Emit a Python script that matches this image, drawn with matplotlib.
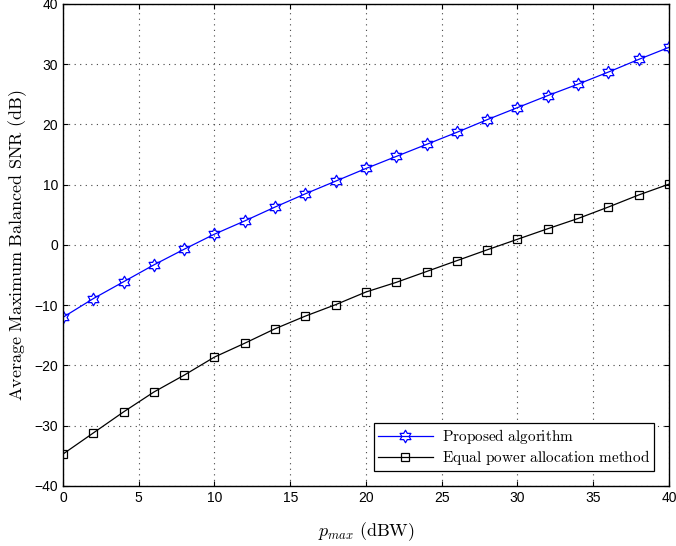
import matplotlib.pyplot as plt
import numpy as np
from matplotlib.path import Path

plt.rcParams['mathtext.fontset'] = 'cm'
plt.rcParams['font.family'] = ['Liberation Sans', 'DejaVu Sans']

# Data
p_max = np.arange(0, 41, 2)
proposed = [-12.0, -8.9, -6.1, -3.3, -0.7, 1.8, 4.0, 6.3, 8.5, 10.6,
            12.7, 14.7, 16.7, 18.7, 20.8, 22.8, 24.8, 26.7, 28.7, 30.8, 32.8]
equal_power = [-34.7, -31.2, -27.7, -24.4, -21.6, -18.6, -16.3, -13.9, -11.8, -9.9,
               -7.8, -6.2, -4.4, -2.6, -0.8, 0.95, 2.7, 4.4, 6.3, 8.3, 10.1]

# hexagram marker (MATLAB 'h')
ang = np.radians(90 + 30 * np.arange(12))
rad = np.where(np.arange(12) % 2 == 0, 1.0, 1 / np.sqrt(3))
verts = np.column_stack([rad * np.cos(ang), rad * np.sin(ang)])
verts = np.vstack([verts, verts[:1]])
hexagram = Path(verts, [Path.MOVETO] + [Path.LINETO] * 11 + [Path.CLOSEPOLY])

fig = plt.figure(figsize=(6.76, 5.46), dpi=100)
ax = fig.add_axes([0.0932, 0.1099, 0.8964, 0.8828])

ax.plot(p_max, proposed, color='blue', lw=0.9, marker=hexagram, ms=9,
        mfc='none', mec='blue', mew=0.9, label=r'$\mathrm{Proposed\ algorithm}$')
ax.plot(p_max, equal_power, color='black', lw=0.9, marker='s', ms=6,
        mfc='none', mec='black', mew=0.9,
        label=r'$\mathrm{Equal\ power\ allocation\ method}$')

ax.set_xlim(0, 40)
ax.set_ylim(-40, 40)
ax.set_xticks(range(0, 41, 5))
ax.set_yticks(range(-40, 41, 10))
ax.grid(True, linestyle=(0, (1, 4)), color='#444444', lw=0.8)
ax.tick_params(direction='in', top=True, right=True, labelsize=10)
for s in ax.spines.values():
    s.set_linewidth(1.0)

ax.set_xlabel(r'$p_{max}\ \mathrm{(dBW)}$', fontsize=13, labelpad=11)
ax.set_ylabel(r'$\mathrm{Average\ Maximum\ Balanced\ SNR\ (dB)}$', fontsize=13, labelpad=4)

leg = ax.legend(loc='lower right', fontsize=11, fancybox=False, framealpha=1,
                edgecolor='black', borderaxespad=1.0, handlelength=3.6,
                borderpad=0.25, labelspacing=0.12, handletextpad=0.6)
leg.get_frame().set_linewidth(0.9)

fig.savefig('out.png', dpi=100)
